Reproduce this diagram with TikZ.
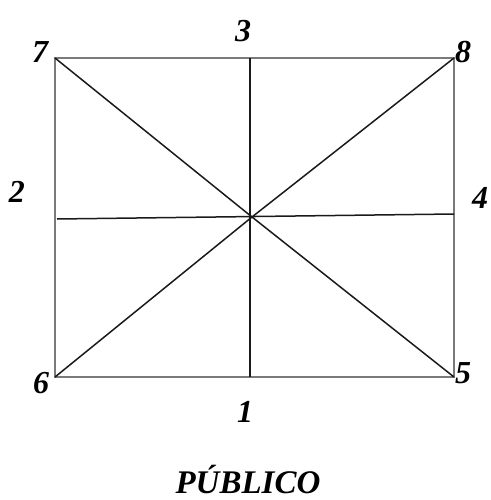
\documentclass[tikz,border=0pt]{standalone}
\usepackage{fontspec}
\setmainfont{Liberation Serif}
\usetikzlibrary{positioning}
\definecolor{framestroke}{HTML}{7a7a7a}
\definecolor{linestroke}{HTML}{1a1a1a}

\begin{document}
\begin{tikzpicture}[
  x=1pt, y=-1pt,
  num/.style={font=\fontsize{32}{36}\selectfont\bfseries\itshape, inner sep=0pt},
  title/.style={font=\fontsize{33}{38}\selectfont\bfseries\itshape, inner sep=0pt},
  frame/.style={draw=framestroke, line width=1.4pt},
  ray/.style={draw=linestroke, line width=1.5pt}
]
\useasboundingbox (0,0) rectangle (490,500);

% Corners of the field and the crossing point.
\coordinate (c7) at (55,58);
\coordinate (c8) at (454,58);
\coordinate (c5) at (454,377);
\coordinate (c6) at (55,377);
\coordinate (ctr) at (252,217);

% Mid points on the sides.
\coordinate (m3) at (250,58);
\coordinate (m1) at (250,377);
\coordinate (m2) at (57,219);
\coordinate (m4) at (454,214);

% Outer frame.
\draw[frame] (c7) -- (c8) -- (c5) -- (c6) -- cycle;

% Lines through the centre.
\draw[ray] (c7) -- (ctr) -- (c5);
\draw[ray] (c6) -- (ctr) -- (c8);
\draw[ray] (m3) -- (m1);
\draw[ray] (m2) -- (m4);

% Labels.
\node[num] (n7) at (40,52)  {7};
\node[num] (n8) at (463,52) {8};
\node[num] (n5) at (463,373) {5};
\node[num] (n6) at (41,383) {6};
\node[num] (n3) at (243,31) {3};
\node[num] (n1) at (245,412) {1};
\node[num] (n2) at (17,192) {2};
\node[num] (n4) at (480,198) {4};
\node[title] (pub) at (248,479) {PÚBLICO};

\end{tikzpicture}
\end{document}
